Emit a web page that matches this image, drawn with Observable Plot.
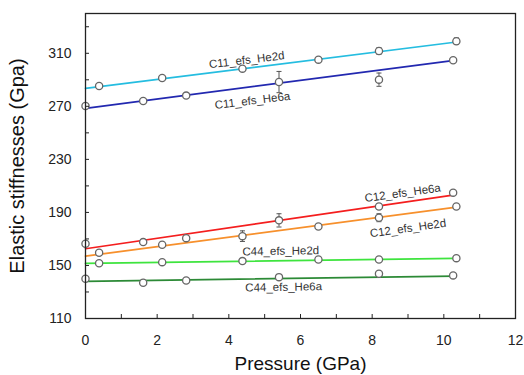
<!DOCTYPE html>
<html>
<head>
<meta charset="utf-8">
<script src="https://cdn.jsdelivr.net/npm/d3@7"></script>
<script src="https://cdn.jsdelivr.net/npm/@observablehq/plot@0.6"></script>
<style>
  html, body { margin: 0; padding: 0; background: white; }
</style>
</head>
<body>
<div id="chart"></div>
<script>
// ---- data ----
const pressureHe6a = [0, 1.61, 2.81, 5.4, 8.19, 10.26];
const pressureHe2d = [0.38, 2.14, 4.38, 6.5, 8.19, 10.35];

const c11He2d = [285.3, 291.4, 298.4, 305.2, 311.7, 319.1];
const c11He2dErr = [1.8, 1, 1, 1.5, 2.5, 2.5];
const c11He6a = [270.2, 274.0, 278.1, 288.3, 290.1, 304.7];
const c11He6aErr = [0, 1.5, 1, 8, 5, 0];
const c12He6a = [166.4, 167.6, 170.6, 184.0, 194.5, 204.9];
const c12He6aErr = [0, 0, 0, 5, 2, 0];
const c12He2d = [159.6, 165.6, 172.1, 179.4, 186.0, 194.5];
const c12He2dErr = [1, 0, 4, 1, 3, 1.5];
const c44He2d = [151.7, 152.5, 153.3, 154.5, 154.5, 155.5];
const c44He2dErr = [1, 0.5, 0.5, 0.5, 0.5, 0.8];
const c44He6a = [140.0, 137.0, 138.7, 141.2, 143.7, 142.5];
const c44He6aErr = [0.5, 0.8, 0.5, 0.8, 0.8, 0.5];

// fitted lines (end points)
const fitX = [0, 10.3];
const c11He2dFit = [283.6, 318.3];
const c11He6aFit = [268.5, 304.6];
const c12He6aFit = [162.6, 203.2];
const c12He2dFit = [157.0, 193.8];
const c44He2dFit = [151.5, 155.4];
const c44He6aFit = [138.0, 142.0];

const seriesNames = ["C11_efs_He2d", "C11_efs_He6a", "C12_efs_He6a", "C12_efs_He2d", "C44_efs_He2d", "C44_efs_He6a"];
const seriesColors = ["#25bde0", "#2228b0", "#f41e1e", "#f7902c", "#3ee43e", "#2c8a36"];

// in-plot labels
const labelX = [4.5, 4.66, 8.85, 9.0, 5.45, 5.53];
const labelY = [304.9, 274.3, 204.6, 178.0, 160.8, 133.6];
const labelAngle = [-7, -7, -8, -8, -1, -1];

const xTickLabels = [0, 2, 4, 6, 8, 10, 12];
const xAllTicks = [0, 1, 2, 3, 4, 5, 6, 7, 8, 9, 10, 11, 12];
const yTickLabels = [110, 150, 190, 230, 270, 310];
const yAllTicks = [110, 130, 150, 170, 190, 210, 230, 250, 270, 290, 310, 330];

// ---- build tables ----
const seriesData = [
  [pressureHe2d, c11He2d, c11He2dErr, c11He2dFit],
  [pressureHe6a, c11He6a, c11He6aErr, c11He6aFit],
  [pressureHe6a, c12He6a, c12He6aErr, c12He6aFit],
  [pressureHe2d, c12He2d, c12He2dErr, c12He2dFit],
  [pressureHe2d, c44He2d, c44He2dErr, c44He2dFit],
  [pressureHe6a, c44He6a, c44He6aErr, c44He6aFit]
];
const points = [];
const fits = [];
seriesData.forEach(([xs, ys, es, fit], i) => {
  xs.forEach((x, j) => points.push({series: seriesNames[i], x, y: ys[j], e: es[j]}));
  fitX.forEach((x, j) => fits.push({series: seriesNames[i], x, y: fit[j]}));
});
const errPts = points.filter(d => d.e > 0);
const labels = seriesNames.map((s, i) => ({text: s, x: labelX[i], y: labelY[i], a: labelAngle[i]}));

const chart = Plot.plot({
  width: 524,
  height: 375,
  marginLeft: 85,
  marginRight: 9,
  marginTop: 13,
  marginBottom: 57,
  x: {domain: [0, 12]},
  y: {domain: [110, 340]},
  color: {domain: seriesNames, range: seriesColors},
  style: {fontFamily: "'Liberation Sans', Arial, sans-serif", background: "white", color: "#222"},
  marks: [
    // fitted lines
    Plot.line(fits, {x: "x", y: "y", z: "series", stroke: "series", strokeWidth: 1.7}),
    // error bars
    Plot.ruleX(errPts, {x: "x", y1: d => d.y - d.e, y2: d => d.y + d.e, stroke: "#555", strokeWidth: 1}),
    Plot.link(errPts, {x1: d => d.x - 0.07, x2: d => d.x + 0.07, y1: d => d.y + d.e, y2: d => d.y + d.e, stroke: "#555", strokeWidth: 1}),
    Plot.link(errPts, {x1: d => d.x - 0.07, x2: d => d.x + 0.07, y1: d => d.y - d.e, y2: d => d.y - d.e, stroke: "#555", strokeWidth: 1}),
    // markers
    Plot.dot(points, {x: "x", y: "y", r: 3.6, fill: "white", stroke: "#666", strokeWidth: 1.3}),
    // series labels
    Plot.text(labels, {x: "x", y: "y", text: "text", rotate: "a", fontSize: 11.5, fill: "#333"}),
    // axes: inward ticks
    Plot.axisX({ticks: xAllTicks, tickSize: -4, tickFormat: () => "", label: null, stroke: "#222"}),
    Plot.axisX({ticks: xTickLabels, tickSize: 0, tickPadding: 17, fontSize: 14, label: null}),
    Plot.axisY({ticks: yAllTicks, tickSize: -4, tickFormat: () => "", label: null, stroke: "#222"}),
    Plot.axisY({ticks: yTickLabels, tickSize: 0, tickPadding: 14, fontSize: 14, label: null}),
    Plot.frame({stroke: "#222", strokeWidth: 1.3}),
    // axis titles
    Plot.text(["Pressure (GPa)"], {text: d => d, frameAnchor: "bottom", dy: 45, lineAnchor: "middle", textAnchor: "middle", fontSize: 19, fill: "#111"}),
    Plot.text(["Elastic stiffnesses (Gpa)"], {text: d => d, frameAnchor: "left", dx: -68, rotate: -90, textAnchor: "middle", lineAnchor: "middle", fontSize: 20, fill: "#111"})
  ]
});
document.getElementById("chart").appendChild(chart);
</script>
</body>
</html>
